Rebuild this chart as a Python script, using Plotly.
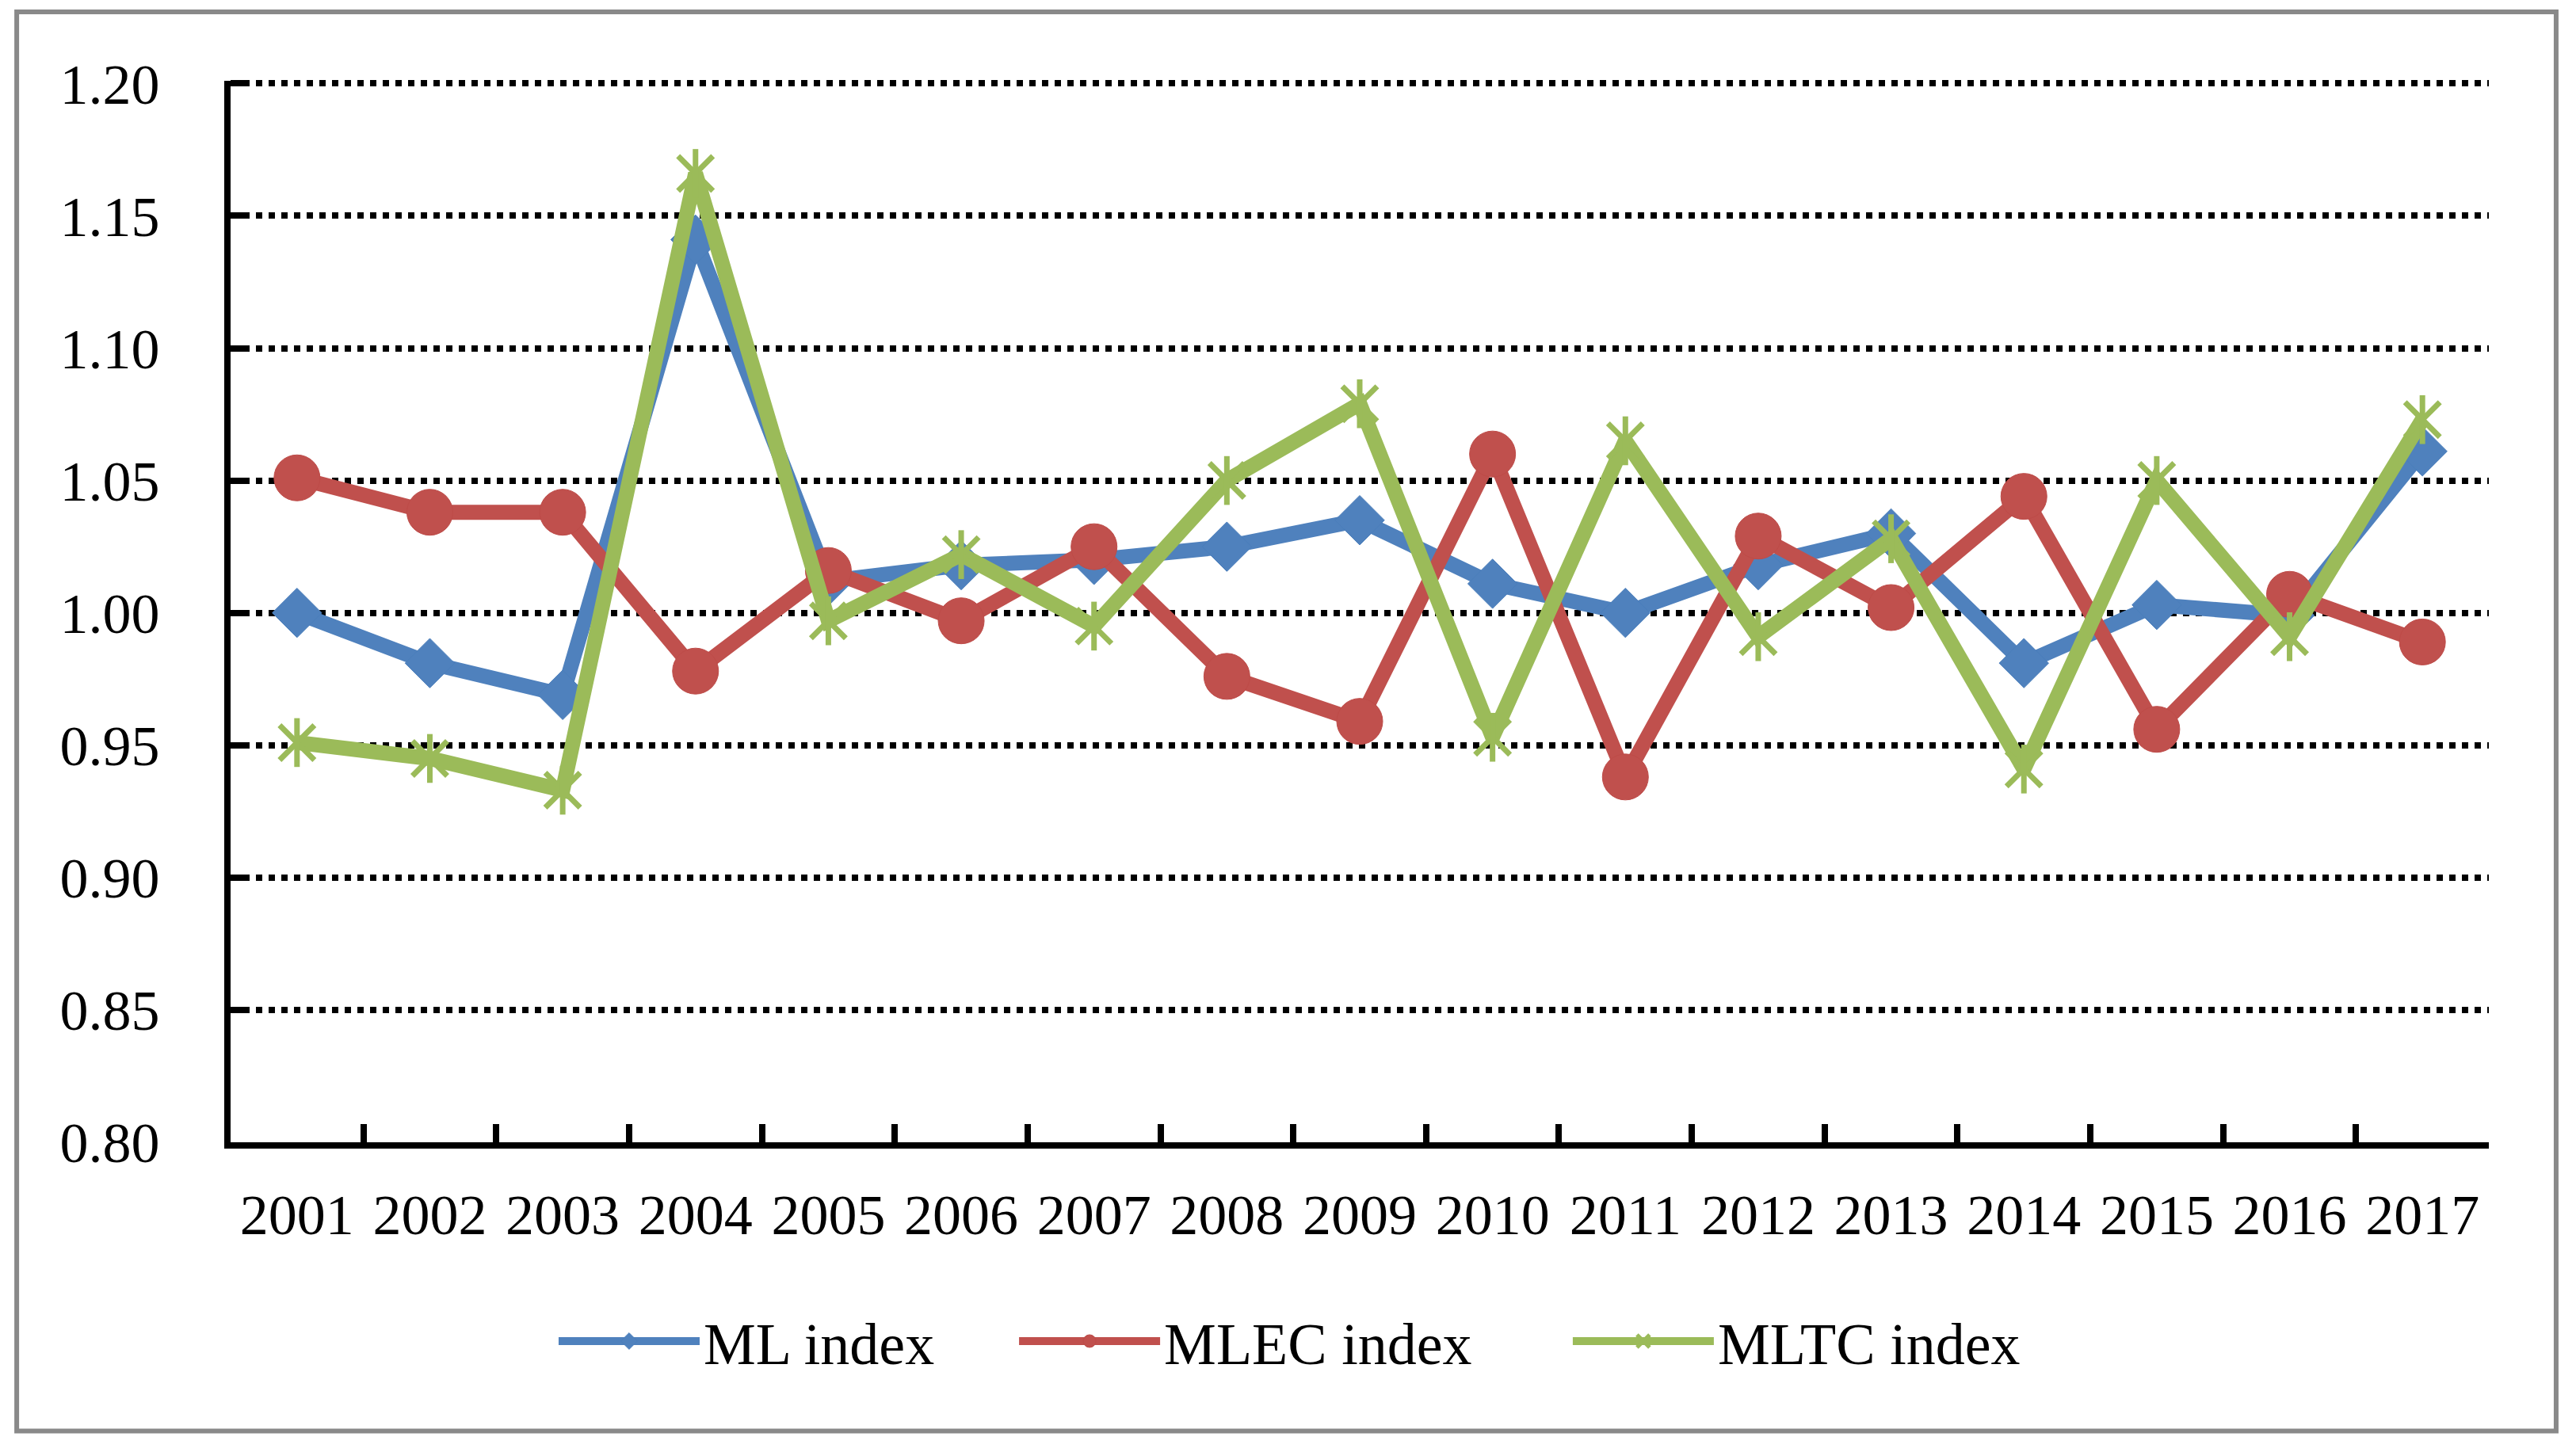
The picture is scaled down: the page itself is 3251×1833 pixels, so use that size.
import plotly.graph_objects as go

years = [str(y) for y in range(2001, 2018)]
ml_index = [1.000, 0.981, 0.969, 1.141, 1.012, 1.018, 1.020, 1.025, 1.035,
            1.011, 1.000, 1.018, 1.030, 0.981, 1.003, 0.999, 1.061]
mlec_index = [1.051, 1.038, 1.038, 0.978, 1.016, 0.997, 1.025, 0.976, 0.959,
              1.060, 0.938, 1.029, 1.002, 1.044, 0.956, 1.007, 0.989]
mltc_index = [0.951, 0.945, 0.933, 1.166, 0.997, 1.022, 0.995, 1.050, 1.079,
              0.953, 1.065, 0.991, 1.028, 0.941, 1.050, 0.991, 1.073]
y_ticks = [0.80, 0.85, 0.90, 0.95, 1.00, 1.05, 1.10, 1.15, 1.20]
y_tick_labels = ["0.80", "0.85", "0.90", "0.95", "1.00", "1.05", "1.10", "1.15", "1.20"]

BLUE = "#4F81BD"
RED = "#C0504D"
GREEN = "#9BBB59"
FONT = "Liberation Serif"

fig = go.Figure()
fig.add_trace(go.Scatter(
    x=years, y=ml_index, name="ML index", mode="lines+markers", legend="legend",
    line=dict(color=BLUE, width=19),
    marker=dict(symbol="diamond", size=48, color=BLUE, line=dict(color="#4A7EBB", width=1)),
))
fig.add_trace(go.Scatter(
    x=years, y=mlec_index, name="MLEC index", mode="lines+markers", legend="legend2",
    line=dict(color=RED, width=19),
    marker=dict(symbol="circle", size=58, color=RED, line=dict(color="#BE4B48", width=1)),
))
fig.add_trace(go.Scatter(
    x=years, y=mltc_index, name="MLTC index", mode="lines+markers", legend="legend3",
    line=dict(color=GREEN, width=19),
    marker=dict(symbol="x-thin-open", size=44, color=GREEN, line=dict(color=GREEN, width=7)),
))
fig.add_trace(go.Scatter(
    x=years, y=mltc_index, name="MLTC index", mode="markers", showlegend=False,
    marker=dict(symbol="line-ns-open", size=44, color=GREEN, line=dict(color=GREEN, width=7)),
    hoverinfo="skip",
))

legend_common = dict(
    orientation="h", traceorder="normal", xanchor="left", y=-0.1876, yanchor="middle",
    font=dict(family=FONT, size=74, color="black"),
    itemwidth=178, bgcolor="rgba(0,0,0,0)",
)

fig.update_layout(
    width=3251, height=1833,
    margin=dict(l=283, r=118, t=94, b=399),
    paper_bgcolor="white", plot_bgcolor="white",
    font=dict(family=FONT, size=72, color="black"),
    showlegend=True,
    legend=dict(x=0.1435, **legend_common),
    legend2=dict(x=0.3474, **legend_common),
    legend3=dict(x=0.5926, **legend_common),
    xaxis=dict(
        type="category", range=[-0.5, 16.5],
        showline=True, linecolor="black", linewidth=8,
        ticks="inside", tickson="boundaries", ticklen=23, tickwidth=8, tickcolor="black",
        showgrid=False, zeroline=False,
        tickfont=dict(family=FONT, size=72, color="black"),
        ticklabelstandoff=22,
    ),
    yaxis=dict(
        range=[0.8, 1.201], tickvals=y_ticks, ticktext=y_tick_labels,
        showline=True, linecolor="black", linewidth=8,
        ticks="inside", ticklen=23, tickwidth=8, tickcolor="black",
        showgrid=True, gridcolor="black", gridwidth=8, griddash="dot",
        zeroline=False,
        tickfont=dict(family=FONT, size=72, color="black"),
        ticklabelstandoff=67,
    ),
    shapes=[dict(
        type="rect", xref="paper", yref="paper",
        x0=-0.0947, x1=1.0298, y0=-0.272, y1=1.065,
        line=dict(color="#898989", width=6), fillcolor="rgba(0,0,0,0)", layer="below",
    )],
)

fig.write_html("out.html")
